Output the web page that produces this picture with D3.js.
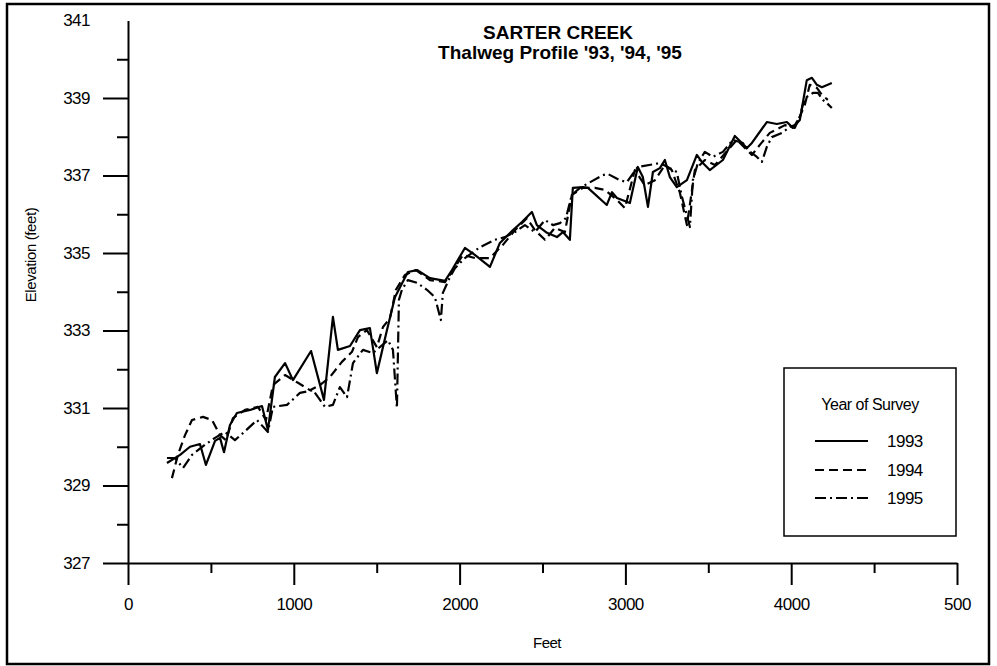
<!DOCTYPE html>
<html><head><meta charset="utf-8">
<script src="https://cdn.jsdelivr.net/npm/d3@7"></script>
<style>
body{margin:0;background:#fff}
svg{display:block}
text{font-family:"Liberation Sans",Arial,Helvetica,sans-serif;fill:#000}
</style>
</head><body>
<svg id="c" width="997" height="666"></svg>
<script>
// ---- data ----
const feet1993 = [235,314,374,434,470,525,555,579,615,657,736,808,844,886,947,995,1104,1182,1236,1266,1339,1399,1459,1501,1562,1610,1688,1743,1821,1912,1954,2032,2092,2183,2243,2322,2376,2436,2466,2527,2587,2623,2665,2683,2744,2774,2888,2919,2949,3027,3075,3105,3136,3166,3208,3238,3268,3310,3371,3431,3461,3509,3588,3660,3733,3763,3853,3913,3974,4010,4052,4094,4125,4155,4185,4245];
const elev1993 = [329.58,329.79,330.0,330.07,329.53,330.15,330.23,329.86,330.56,330.87,330.95,331.05,330.43,331.8,332.16,331.72,332.47,331.21,333.35,332.5,332.6,333.01,333.06,331.9,333.01,333.86,334.51,334.56,334.35,334.28,334.56,335.13,334.95,334.64,335.26,335.59,335.8,336.06,335.72,335.52,335.41,335.54,335.34,336.68,336.7,336.68,336.24,336.57,336.42,336.29,337.22,336.96,336.19,337.09,337.19,337.4,336.96,336.7,336.88,337.53,337.35,337.14,337.4,338.02,337.71,337.84,338.38,338.33,338.38,338.23,338.43,339.46,339.52,339.34,339.28,339.39];

const feet1994 = [265,301,344,386,452,507,555,591,633,706,784,832,874,947,1025,1097,1158,1218,1290,1351,1387,1441,1501,1538,1580,1616,1670,1737,1821,1912,2020,2092,2183,2261,2334,2406,2454,2515,2575,2635,2677,2744,2816,2876,2949,2997,3057,3117,3178,3238,3280,3329,3371,3419,3479,3540,3672,3763,3811,3871,3962,4022,4082,4112,4155,4185,4221];
const elev1994 = [329.19,329.79,330.30,330.69,330.77,330.69,330.30,330.17,330.74,330.95,331.03,330.69,331.59,331.85,331.65,331.46,331.59,331.80,332.19,332.45,332.83,333.01,332.57,333.09,333.32,334.05,334.43,334.56,334.30,334.25,334.95,334.87,334.87,335.21,335.59,335.90,335.59,335.34,335.65,335.54,336.50,336.68,336.68,336.63,336.37,336.16,337.14,336.75,336.88,337.27,337.14,336.55,335.72,337.14,337.40,337.27,337.92,337.53,337.79,338.10,338.30,338.23,338.82,339.34,339.26,339.08,338.95];

const feet1995 = [235,283,332,386,464,525,585,645,693,778,844,874,959,1037,1116,1188,1236,1278,1321,1357,1417,1477,1568,1598,1622,1634,1652,1688,1743,1803,1851,1887,1899,1942,1972,2032,2123,2213,2273,2334,2394,2454,2515,2563,2605,2641,2677,2726,2864,2894,2967,3009,3075,3208,3268,3310,3341,3389,3407,3437,3479,3528,3588,3648,3708,3739,3793,3823,3853,3883,3944,3992,4022,4052,4070,4094,4131,4161,4191,4215,4245];
const elev1995 = [329.71,329.71,329.45,329.79,330.05,330.23,330.38,330.17,330.35,330.69,330.38,331.03,331.08,331.39,331.46,331.03,331.08,331.54,331.28,332.16,332.50,332.42,332.75,332.50,331.00,333.79,334.05,334.30,334.23,334.05,333.86,333.27,333.97,334.38,334.61,334.87,335.15,335.34,335.41,335.54,335.72,335.54,335.85,335.72,335.77,335.90,336.50,336.68,337.01,337.04,336.88,336.83,337.22,337.32,337.19,337.09,336.45,335.67,336.88,337.32,337.61,337.48,337.61,337.92,337.84,337.66,337.48,337.35,337.74,337.99,338.10,338.25,338.30,338.51,338.82,339.03,339.13,339.13,338.95,338.87,338.74];

const seriesNames = ["1993","1994","1995"];
const xTickValues = [0,1000,2000,3000,4000,5000];
const xTickLabels = ["0","1000","2000","3000","4000","500"];
const xMinorTicks = [500,1500,2500,3500,4500];
const yTickValues = [327,329,331,333,335,337,339,341];
const yTickLabels = ["327","329","331","333","335","337","339","341"];
const yMinorTicks = [328,330,332,334,336,338,340];
const titleLines = ["SARTER CREEK","Thalweg Profile '93, '94, '95"];
const xTitle = "Feet";
const yTitle = "Elevation (feet)";
const legendTitle = "Year of Survey";

// ---- drawing ----
const svg = d3.select("#c");
const x = d3.scaleLinear().domain([0,5000]).range([128,957]);
const y = d3.scaleLinear().domain([327,341]).range([563,20.5]);

svg.append("rect").attr("x",7).attr("y",4).attr("width",982).attr("height",660)
  .attr("fill","none").attr("stroke","#000").attr("stroke-width",2.5);

const styleAxis = g => {
  g.selectAll("line,path").attr("stroke","#000").attr("stroke-width",2);
  g.selectAll("text").attr("font-size",17).attr("letter-spacing","-0.5px").attr("fill","#000");
};

// minor ticks
svg.append("g").attr("transform","translate(0,563)")
  .call(d3.axisBottom(x).tickValues(xMinorTicks).tickSize(10).tickFormat(""))
  .call(g=>g.select(".domain").remove()).call(styleAxis);
svg.append("g").attr("transform","translate(128,0)")
  .call(d3.axisLeft(y).tickValues(yMinorTicks).tickSize(11).tickFormat(""))
  .call(g=>g.select(".domain").remove()).call(styleAxis);

// major axes
svg.append("g").attr("transform","translate(0,563)")
  .call(d3.axisBottom(x).tickValues(xTickValues).tickSize(22).tickSizeOuter(0).tickPadding(13)
    .tickFormat((d,i)=>xTickLabels[i]))
  .call(styleAxis);
const gy = svg.append("g").attr("transform","translate(128,0)")
  .call(d3.axisLeft(y).tickValues(yTickValues).tickSize(25).tickSizeOuter(0).tickPadding(13)
    .tickFormat((d,i)=>yTickLabels[i]))
  .call(styleAxis);
gy.selectAll(".tick").filter(d=>d===341).select("line").remove();

// titles
svg.append("text").attr("x",558).attr("y",39).attr("text-anchor","middle")
  .attr("font-size",19).attr("font-weight","bold").text(titleLines[0]);
svg.append("text").attr("x",560).attr("y",59).attr("text-anchor","middle")
  .attr("font-size",19).attr("font-weight","bold").text(titleLines[1]);

svg.append("text").attr("x",547).attr("y",648).attr("text-anchor","middle")
  .attr("font-size",15).attr("letter-spacing","-0.5px").text(xTitle);
svg.append("text").attr("transform","translate(36,255) rotate(-90)").attr("text-anchor","middle")
  .attr("font-size",15).attr("letter-spacing","-0.4px").text(yTitle);

// series
const dashes = [null,"9,5","11,4,2,4"];
const data = [d3.zip(feet1993,elev1993), d3.zip(feet1994,elev1994), d3.zip(feet1995,elev1995)];
const line = d3.line().x(d=>x(d[0])).y(d=>y(d[1]));
data.forEach((s,i)=>{
  svg.append("path").datum(s).attr("d",line).attr("fill","none")
    .attr("stroke","#000").attr("stroke-width",2.2).attr("stroke-linejoin","round")
    .attr("stroke-dasharray",dashes[i]);
});

// legend
const lg = svg.append("g");
lg.append("rect").attr("x",784).attr("y",368).attr("width",172).attr("height",168)
  .attr("fill","#fff").attr("stroke","#000").attr("stroke-width",1.5);
lg.append("text").attr("x",870).attr("y",410).attr("text-anchor","middle")
  .attr("font-size",16).attr("letter-spacing","-0.5px").text(legendTitle);
const ly = [441,470,498];
seriesNames.forEach((n,i)=>{
  lg.append("line").attr("x1",815).attr("x2",868).attr("y1",ly[i]).attr("y2",ly[i])
    .attr("stroke","#000").attr("stroke-width",2).attr("stroke-dasharray",dashes[i]);
  lg.append("text").attr("x",887).attr("y",ly[i]+6).attr("font-size",17)
    .attr("letter-spacing","-0.5px").text(n);
});
</script>
</body></html>
